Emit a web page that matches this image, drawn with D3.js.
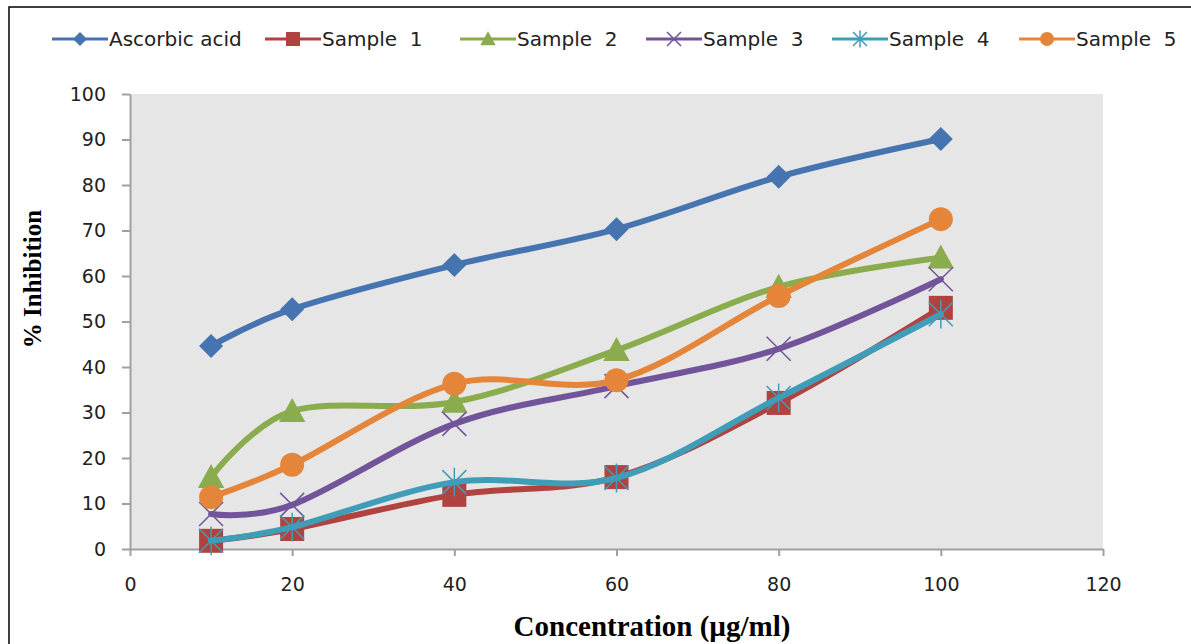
<!DOCTYPE html>
<html>
<head>
<meta charset="utf-8">
<script src="https://cdn.jsdelivr.net/npm/d3@7"></script>
<style>
  body { margin: 0; background: #fff; }
</style>
</head>
<body>
<div id="chart"></div>
<script>
const concentrations = [10, 20, 40, 60, 80, 100];
const seriesNames = ["Ascorbic acid", "Sample  1", "Sample  2", "Sample  3", "Sample  4", "Sample  5"];
const ascorbic = [44.6, 52.7, 62.4, 70.3, 81.8, 90.1];
const sample1 = [1.8, 4.4, 11.9, 15.8, 32.1, 53.0];
const sample2 = [15.8, 30.3, 32.3, 43.7, 57.6, 64.0];
const sample3 = [7.7, 9.7, 27.5, 35.8, 44.0, 59.3];
const sample4 = [1.8, 4.8, 14.7, 15.6, 33.2, 51.6];
const sample5 = [11.4, 18.5, 36.3, 37.1, 55.6, 72.5];
const xTicks = [0, 20, 40, 60, 80, 100, 120];
const yTicks = [0, 10, 20, 30, 40, 50, 60, 70, 80, 90, 100];

const colors = ["#4674b0", "#b0433f", "#8aac4c", "#72549a", "#3f9db8", "#e4853a"];
const markers = ["diamond", "square", "triangle", "x", "star", "circle"];
const allSeries = [ascorbic, sample1, sample2, sample3, sample4, sample5];

const width = 1191, height = 644;
const margin = { left: 130, right: 88, top: 94, bottom: 95 };

const svg = d3.select("#chart").append("svg")
  .attr("width", width)
  .attr("height", height);

// outer frame
svg.append("rect")
  .attr("x", 9).attr("y", 7)
  .attr("width", width + 20).attr("height", height + 20)
  .attr("fill", "none").attr("stroke", "#000").attr("stroke-width", 1.5);

const x = d3.scaleLinear().domain([0, 120]).range([margin.left, width - margin.right]);
const y = d3.scaleLinear().domain([0, 100]).range([height - margin.bottom, margin.top]);

// plot area
svg.append("rect")
  .attr("x", x(0)).attr("y", y(100))
  .attr("width", x(120) - x(0)).attr("height", y(0) - y(100))
  .attr("fill", "#e6e6e6");

const tickFont = "'DejaVu Sans', Verdana, sans-serif";

const yAxis = svg.append("g")
  .attr("transform", `translate(${x(0)},0)`)
  .call(d3.axisLeft(y).tickValues(yTicks).tickSize(8).tickPadding(16).tickSizeOuter(0));
const xAxis = svg.append("g")
  .attr("transform", `translate(0,${y(0)})`)
  .call(d3.axisBottom(x).tickValues(xTicks).tickSize(7).tickPadding(22).tickSizeOuter(0));

[xAxis, yAxis].forEach(g => {
  g.select(".domain").attr("stroke", "#a0a0a0").attr("stroke-width", 2);
  g.selectAll(".tick line").attr("stroke", "#a0a0a0").attr("stroke-width", 2);
  g.selectAll(".tick text")
    .style("font-family", tickFont)
    .style("font-size", "19px")
    .attr("fill", "#222");
});

// axis titles
svg.append("text")
  .attr("transform", `translate(41,279) rotate(-90)`)
  .attr("text-anchor", "middle")
  .style("font-family", "'Liberation Serif', 'Times New Roman', serif")
  .style("font-weight", "bold")
  .style("font-size", "25px")
  .text("% Inhibition");

svg.append("text")
  .attr("x", 652).attr("y", 636)
  .attr("text-anchor", "middle")
  .style("font-family", "'Liberation Serif', 'Times New Roman', serif")
  .style("font-weight", "bold")
  .style("font-size", "29px")
  .text("Concentration (µg/ml)");

// markers
function drawMarker(g, type, color, cx, cy, s) {
  if (type === "diamond") {
    g.append("path")
      .attr("d", `M${cx},${cy - s}L${cx + s},${cy}L${cx},${cy + s}L${cx - s},${cy}Z`)
      .attr("fill", color);
  } else if (type === "square") {
    g.append("rect")
      .attr("x", cx - s).attr("y", cy - s)
      .attr("width", 2 * s).attr("height", 2 * s)
      .attr("fill", color);
  } else if (type === "triangle") {
    g.append("path")
      .attr("d", `M${cx},${cy - s * 1.1}L${cx + s * 1.1},${cy + s * 0.9}L${cx - s * 1.1},${cy + s * 0.9}Z`)
      .attr("fill", color);
  } else if (type === "circle") {
    g.append("circle").attr("cx", cx).attr("cy", cy).attr("r", s).attr("fill", color);
  } else if (type === "x") {
    g.append("path")
      .attr("d", `M${cx - s},${cy - s}L${cx + s},${cy + s}M${cx - s},${cy + s}L${cx + s},${cy - s}`)
      .attr("stroke", color).attr("stroke-width", 1.5).attr("fill", "none");
  } else if (type === "star") {
    g.append("path")
      .attr("d", `M${cx - s},${cy - s}L${cx + s},${cy + s}M${cx - s},${cy + s}L${cx + s},${cy - s}M${cx},${cy - s * 1.2}L${cx},${cy + s * 1.2}`)
      .attr("stroke", color).attr("stroke-width", 1.5).attr("fill", "none");
  }
}

const line = d3.line()
  .x((d, i) => x(concentrations[i]))
  .y(d => y(d))
  .curve(d3.curveCatmullRom.alpha(0));

const plot = svg.append("g");
allSeries.forEach((vals, k) => {
  const g = plot.append("g");
  g.append("path")
    .attr("d", line(vals))
    .attr("fill", "none")
    .attr("stroke", colors[k])
    .attr("stroke-width", 6)
    .attr("stroke-linejoin", "round")
    .attr("stroke-linecap", "round");
  vals.forEach((v, i) => drawMarker(g, markers[k], colors[k], x(concentrations[i]), y(v), 12));
});

// legend (line start of each entry)
const legendX = [52, 265, 460, 646, 832, 1019];
const legend = svg.append("g").attr("transform", "translate(0,39)");
seriesNames.forEach((name, k) => {
  const lx = legendX[k];
  const g = legend.append("g");
  g.append("line")
    .attr("x1", lx).attr("x2", lx + 56)
    .attr("stroke", colors[k]).attr("stroke-width", 3);
  drawMarker(g, markers[k], colors[k], lx + 28, 0, 7);
  g.append("text")
    .attr("x", lx + 57).attr("y", 7)
    .style("font-family", tickFont)
    .style("font-size", "20px")
    .style("white-space", "pre")
    .attr("fill", "#222")
    .text(name);
});
</script>
</body>
</html>
